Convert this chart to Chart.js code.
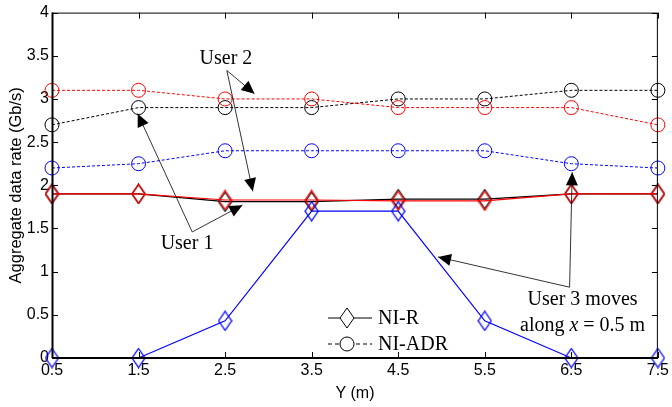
<!DOCTYPE html>
<html>
<head>
<meta charset="utf-8">
<script src="https://cdn.jsdelivr.net/npm/chart.js@4.4.1/dist/chart.umd.min.js"></script>
<style>
  html, body { margin: 0; padding: 0; background: #fff; }
  #wrap { width: 672px; height: 407px; }
</style>
</head>
<body>
<div id="wrap"><canvas id="chart" width="672" height="407"></canvas></div>
<script>
// ---------- data ----------
const yPos = [0.5, 1.5, 2.5, 3.5, 4.5, 5.5, 6.5, 7.5];
const xTicks = [0.5, 1.5, 2.5, 3.5, 4.5, 5.5, 6.5, 7.5];
const yTicks = [0, 0.5, 1, 1.5, 2, 2.5, 3, 3.5, 4];

// NI-R (solid, diamonds)
const user1R = [1.9, 1.9, 1.81, 1.81, 1.84, 1.84, 1.9, 1.9];
const user2R = [1.9, 1.9, 1.83, 1.83, 1.82, 1.82, 1.9, 1.9];
const user3R = [0, 0, 0.43, 1.7, 1.7, 0.43, 0, 0];

// NI-ADR (dashed, circles)
const user1ADR = [2.7, 2.9, 2.9, 2.9, 3.0, 3.0, 3.1, 3.1];
const user2ADR = [3.1, 3.1, 3.0, 3.0, 2.9, 2.9, 2.9, 2.7];
const user3ADR = [2.2, 2.25, 2.4, 2.4, 2.4, 2.4, 2.25, 2.2];

const legendLabels = ['NI-R', 'NI-ADR'];

const BLACK = '#000000', RED = '#ff0000', BLUE = '#0000ff';
const SERIF = '"Liberation Serif", "Times New Roman", serif';
const SANS = '"Liberation Sans", Arial, sans-serif';

// tall diamond marker drawn on a small canvas
function makeDiamond(color) {
    const c = document.createElement('canvas');
    c.width = 15; c.height = 21;
    const g = c.getContext('2d');
    g.strokeStyle = color;
    g.lineWidth = 1.3;
    g.beginPath();
    g.moveTo(7.5, 1); g.lineTo(14, 10.5); g.lineTo(7.5, 20); g.lineTo(1, 10.5);
    g.closePath();
    g.stroke();
    return c;
}

function pts(arr) {
    return arr.map((v, i) => ({ x: yPos[i], y: v }));
}

function rSet(data, color) {
    return {
        data: pts(data), borderColor: color, borderWidth: 1.2,
        pointStyle: makeDiamond(color), pointRadius: 8,
        backgroundColor: 'transparent', tension: 0, clip: false
    };
}
function adrSet(data, color) {
    return {
        data: pts(data), borderColor: color, borderWidth: 1, borderDash: [3, 2],
        pointStyle: 'circle', pointRadius: 7, pointBorderWidth: 1,
        pointBorderColor: color, backgroundColor: 'transparent', tension: 0, clip: false
    };
}

// ---------- annotations (arrows + labels), in data units ----------
function arrow(ctx, x1, y1, x2, y2) {
    ctx.beginPath();
    ctx.moveTo(x1, y1); ctx.lineTo(x2, y2);
    ctx.stroke();
    const a = Math.atan2(y2 - y1, x2 - x1);
    const len = 13, w = 6;
    ctx.beginPath();
    ctx.moveTo(x2, y2);
    ctx.lineTo(x2 - len * Math.cos(a) + w * Math.sin(a), y2 - len * Math.sin(a) - w * Math.cos(a));
    ctx.lineTo(x2 - len * Math.cos(a) - w * Math.sin(a), y2 - len * Math.sin(a) + w * Math.cos(a));
    ctx.closePath();
    ctx.fill();
}

const annotationPlugin = {
    id: 'extras',
    afterDatasetsDraw(chart) {
        const ctx = chart.ctx;
        const xs = chart.scales.x, ys = chart.scales.y;
        const X = v => xs.getPixelForValue(v), Y = v => ys.getPixelForValue(v);
        const a = chart.chartArea;

        ctx.save();
        // frame
        ctx.strokeStyle = '#000';
        ctx.lineWidth = 1;
        ctx.strokeRect(a.left + 0.5, a.top + 0.5, a.right - a.left - 1, a.bottom - a.top);
        ctx.lineWidth = 2;
        ctx.beginPath();
        ctx.moveTo(a.left, a.bottom); ctx.lineTo(a.right, a.bottom);
        ctx.moveTo(a.left + 0.5, a.top); ctx.lineTo(a.left + 0.5, a.bottom);
        ctx.stroke();
        // inward ticks
        ctx.lineWidth = 1;
        ctx.beginPath();
        xTicks.forEach(t => {
            const px = Math.round(X(t)) + 0.5;
            ctx.moveTo(px, a.bottom); ctx.lineTo(px, a.bottom - 6);
            ctx.moveTo(px, a.top); ctx.lineTo(px, a.top + 6);
        });
        yTicks.forEach(t => {
            const py = Math.round(Y(t)) + 0.5;
            ctx.moveTo(a.left, py); ctx.lineTo(a.left + 6, py);
            ctx.moveTo(a.right, py); ctx.lineTo(a.right - 6, py);
        });
        ctx.stroke();

        // arrows
        ctx.strokeStyle = '#000';
        ctx.fillStyle = '#000';
        ctx.lineWidth = 0.8;
        arrow(ctx, X(2.52), Y(3.33), X(2.84), Y(3.06));
        arrow(ctx, X(2.52), Y(3.33), X(2.82), Y(1.93));
        arrow(ctx, X(2.12), Y(1.46), X(1.49), Y(2.83));
        arrow(ctx, X(2.12), Y(1.46), X(2.70), Y(1.77));
        arrow(ctx, X(6.48), Y(0.82), X(4.96), Y(1.17));
        arrow(ctx, X(6.48), Y(0.82), X(6.51), Y(2.15));

        // labels
        ctx.font = '20px ' + SERIF;
        ctx.textAlign = 'center';
        ctx.textBaseline = 'middle';
        ctx.fillText('User 2', X(2.51), Y(3.46));
        ctx.fillText('User 1', X(2.06), Y(1.32));
        ctx.fillText('User 3 moves', X(6.63), Y(0.67));
        // "along x = 0.5 m" with italic x
        const cx = X(6.63), cy = Y(0.37);
        const p1 = 'along ', p2 = 'x', p3 = ' = 0.5 m';
        ctx.font = '20px ' + SERIF;
        const w1 = ctx.measureText(p1).width, w3 = ctx.measureText(p3).width;
        ctx.font = 'italic 20px ' + SERIF;
        const w2 = ctx.measureText(p2).width;
        let sx = cx - (w1 + w2 + w3) / 2;
        ctx.textAlign = 'left';
        ctx.font = '20px ' + SERIF;
        ctx.fillText(p1, sx, cy);
        ctx.font = 'italic 20px ' + SERIF;
        ctx.fillText(p2, sx + w1, cy);
        ctx.font = '20px ' + SERIF;
        ctx.fillText(p3, sx + w1 + w2, cy);

        // legend
        const lx0 = 328, lx1 = 372, mx = 347;
        const rows = [318, 344];
        ctx.strokeStyle = '#000';
        ctx.lineWidth = 1;
        rows.forEach((ry, i) => {
            ctx.setLineDash(i === 1 ? [4, 3] : []);
            ctx.beginPath();
            ctx.moveTo(lx0, ry); ctx.lineTo(lx1, ry);
            ctx.stroke();
            ctx.setLineDash([]);
            ctx.fillStyle = '#fff';
            if (i === 0) {
                ctx.beginPath();
                ctx.moveTo(mx, ry - 10); ctx.lineTo(mx + 7, ry); ctx.lineTo(mx, ry + 10); ctx.lineTo(mx - 7, ry);
                ctx.closePath();
                ctx.fill(); ctx.stroke();
            } else {
                ctx.beginPath();
                ctx.arc(mx, ry, 7, 0, Math.PI * 2);
                ctx.fill(); ctx.stroke();
            }
            ctx.fillStyle = '#000';
            ctx.font = '20px ' + SERIF;
            ctx.textAlign = 'left';
            ctx.fillText(legendLabels[i], 378, ry + 1);
        });
        ctx.restore();
    }
};

new Chart(document.getElementById('chart'), {
    type: 'line',
    data: {
        // first dataset is painted on top
        datasets: [
            rSet(user3R, BLUE),
            rSet(user2R, RED),
            rSet(user1R, BLACK),
            adrSet(user3ADR, BLUE),
            adrSet(user2ADR, RED),
            adrSet(user1ADR, BLACK)
        ]
    },
    options: {
        responsive: false,
        animation: false,
        layout: { padding: { top: 10, right: 11, left: 0, bottom: 0 } },
        plugins: { legend: { display: false }, tooltip: { enabled: false } },
        scales: {
            x: {
                type: 'linear', min: 0.5, max: 7.5,
                afterBuildTicks: s => { s.ticks = xTicks.map(v => ({ value: v })); },
                grid: { display: false, drawTicks: false },
                border: { display: false },
                ticks: { color: '#000', font: { family: SANS, size: 16 }, padding: 3,
                         maxRotation: 0, callback: v => String(v) },
                title: { display: true, text: 'Y (m)', color: '#000',
                         font: { family: SANS, size: 16 }, padding: { top: 0, bottom: 4 } },
                afterFit: s => { s.height = 49; }
            },
            y: {
                min: 0, max: 4,
                afterBuildTicks: s => { s.ticks = yTicks.map(v => ({ value: v })); },
                grid: { display: false, drawTicks: false },
                border: { display: false },
                ticks: { color: '#000', font: { family: SANS, size: 16 }, padding: 3,
                         callback: v => String(v) },
                title: { display: true, text: 'Aggregate data rate (Gb/s)', color: '#000',
                         font: { family: SANS, size: 16.5 }, padding: { top: 7, bottom: 0 } },
                afterFit: s => { s.width = 52; }
            }
        }
    },
    plugins: [annotationPlugin]
});
</script>
</body>
</html>
